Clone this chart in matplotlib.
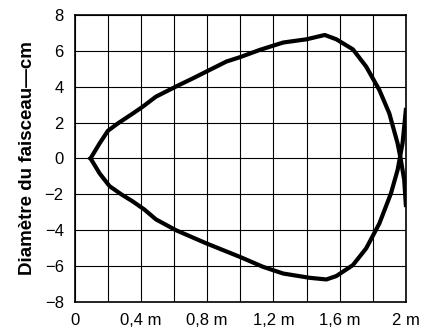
import matplotlib.pyplot as plt
import matplotlib.font_manager as fm

# upper branch: from the tip, over the top, down through the crossing
upper_x = [0.095, 0.15, 0.20, 0.26, 0.35, 0.41, 0.49, 0.61, 0.715, 0.795, 0.916,
           0.997, 1.118, 1.259, 1.40, 1.51, 1.58, 1.68, 1.76, 1.84, 1.90, 1.95,
           1.97, 1.99, 2.0]
upper_y = [0.0, 0.84, 1.54, 1.95, 2.5, 2.88, 3.44, 4.0, 4.47, 4.84, 5.4,
           5.64, 6.05, 6.46, 6.64, 6.88, 6.64, 6.08, 5.12, 3.81, 2.51, 0.84,
           -0.09, -1.2, -2.6]

# lower branch: from the tip, under the bottom, up through the crossing
lower_x = [0.095, 0.15, 0.21, 0.28, 0.35, 0.42, 0.49, 0.61, 0.795, 0.997, 1.138,
           1.259, 1.42, 1.52, 1.58, 1.68, 1.76, 1.84, 1.91, 1.95, 1.98, 2.0]
lower_y = [0.0, -0.84, -1.55, -2.0, -2.4, -2.85, -3.4, -4.0, -4.74, -5.49, -6.05,
           -6.42, -6.66, -6.75, -6.56, -5.95, -5.02, -3.63, -1.95, -0.65, 0.84, 2.7]

xticks = [0, 0.4, 0.8, 1.2, 1.6, 2.0]
xtick_labels = ["0", "0,4 m", "0,8 m", "1,2 m", "1,6 m", "2 m"]
yticks = [-8, -6, -4, -2, 0, 2, 4, 6, 8]

names = {f.name for f in fm.fontManager.ttflist}
font = "Liberation Sans Narrow" if "Liberation Sans Narrow" in names else "Liberation Sans"
plt.rcParams["font.family"] = [font, "DejaVu Sans"]

fig = plt.figure(figsize=(4.35, 3.31), dpi=100)
ax = fig.add_axes([0.172, 0.088, 0.761, 0.867])

ax.plot(upper_x, upper_y, color="black", lw=3.0, solid_joinstyle="round")
ax.plot(lower_x, lower_y, color="black", lw=3.0, solid_joinstyle="round")

ax.set_xlim(0, 2)
ax.set_ylim(-8, 8)
ax.set_xticks([i * 0.2 for i in range(11)], minor=True)
ax.set_xticks(xticks)
ax.set_xticklabels(xtick_labels)
ax.set_yticks(yticks)
ax.grid(True, which="both", color="black", lw=0.8)
ax.tick_params(which="both", length=0, labelsize=12, pad=8)
for s in ax.spines.values():
    s.set_linewidth(1.2)

ax.set_ylabel("Diamètre du faisceau—cm", fontsize=13.5, fontweight="bold", labelpad=6)

fig.savefig("out.png", dpi=100)
